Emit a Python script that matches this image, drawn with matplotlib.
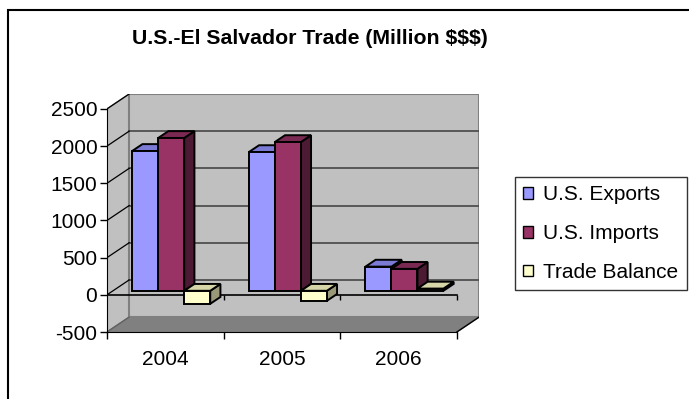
import matplotlib
matplotlib.use('Agg')
import matplotlib.pyplot as plt
from matplotlib.patches import Polygon, Rectangle, Patch

plt.rcParams['font.family'] = ['Liberation Sans', 'DejaVu Sans']

years = ['2004', '2005', '2006']
series_names = ['U.S. Exports', 'U.S. Imports', 'Trade Balance']
exports = [1880, 1865, 325]
imports = [2055, 2000, 295]
balance = [-175, -135, 30]
yticks = [-500, 0, 500, 1000, 1500, 2000, 2500]

face_colors = ['#9999ff', '#993366', '#ffffcc']
top_colors = ['#7b7bd6', '#7a2952', '#d6d6a8']
side_colors = ['#5c5c99', '#4d1a33', '#999979']

ymin, ymax = -500, 2500
dx, dy = 0.19, 200          # depth of the walls (category units, value units)
bar_w = 0.223
f0, f1 = 0.27, 0.73         # front/back depth of the bars

fig = plt.figure(figsize=(6.89, 3.99), dpi=100)
ax = fig.add_axes([107 / 689, 1 - 332 / 399, 372 / 689, 238 / 399])
ax.set_xlim(0, 3 + dx)
ax.set_ylim(ymin, ymax + dy)
ax.patch.set_visible(False)


def shifted(pts, f):
    return [(x + f * dx, y + f * dy) for x, y in pts]


# walls and floor
ax.add_patch(Polygon([(0, ymin), (0, ymax), (dx, ymax + dy), (dx, ymin + dy)],
                     facecolor='#c0c0c0', edgecolor='#808080', lw=1, zorder=0))
ax.add_patch(Rectangle((dx, ymin + dy), 3, ymax - ymin,
                       facecolor='#c0c0c0', edgecolor='#808080', lw=1.5, zorder=0))
ax.add_patch(Polygon([(0, ymin), (3, ymin), (3 + dx, ymin + dy), (dx, ymin + dy)],
                     facecolor='#808080', edgecolor='#808080', lw=1, zorder=0))

# gridlines on back wall and side wall
for v in yticks[1:-1]:
    ax.plot([dx, 3 + dx], [v + dy, v + dy], color='#505050', lw=1.3, zorder=1)
for v in yticks[1:]:
    ax.plot([0, dx], [v, v + dy], color='black', lw=0.9, zorder=1)
ax.plot([0, dx], [ymin, ymin + dy], color='#606060', lw=0.9, zorder=1)
ax.plot([3, 3 + dx], [ymin, ymin + dy], color='black', lw=1, zorder=1)

# category axis at zero
ax.plot([0, 3], [0, 0], color='black', lw=1.2, zorder=1)
ax.vlines([1, 2, 3], -70, 0, color='black', lw=1, zorder=1)

# bars
data = [exports, imports, balance]
for c in range(len(years)):
    for i, vals in enumerate(data):
        v = vals[c]
        x0 = c + 0.165 + i * bar_w
        lo, hi = min(0, v), max(0, v)
        kw = dict(edgecolor='black', lw=1.4, joinstyle='miter', zorder=3)
        ax.add_patch(Polygon(shifted([(x0 + bar_w, lo), (x0 + bar_w, hi)], f0)
                             + shifted([(x0 + bar_w, hi), (x0 + bar_w, lo)], f1),
                             facecolor=side_colors[i], **kw))
        ax.add_patch(Polygon(shifted([(x0, hi), (x0 + bar_w, hi)], f0)
                             + shifted([(x0 + bar_w, hi), (x0, hi)], f1),
                             facecolor=top_colors[i], **kw))
        ax.add_patch(Rectangle((x0 + f0 * dx, lo + f0 * dy), bar_w, hi - lo,
                               facecolor=face_colors[i], **kw))

# axes
for s in ['top', 'right']:
    ax.spines[s].set_visible(False)
ax.spines['left'].set_bounds(ymin, ymax)
ax.spines['bottom'].set_bounds(0, 3)
ax.spines['left'].set_zorder(2)
ax.spines['bottom'].set_zorder(2)
ax.set_yticks(yticks)
ax.set_yticklabels([str(t) for t in yticks])
ax.set_xticks([0, 1, 2, 3])
ax.set_xticklabels([])
ax.set_xticks([0.5, 1.5, 2.5], minor=True)
ax.set_xticklabels(years, minor=True)
ax.tick_params(axis='both', which='major', direction='out', length=5, width=1,
               labelsize=15, pad=2)
ax.tick_params(axis='x', which='minor', length=0, labelsize=15, pad=13)

fig.text(310 / 689, 1 - 39 / 399, 'U.S.-El Salvador Trade (Million $$$)',
         ha='center', va='center', fontsize=15.3, fontweight='bold')

handles = [Patch(facecolor=col, edgecolor='black', lw=1) for col in face_colors]
leg = fig.legend(handles, series_names, loc='upper left',
                 bbox_to_anchor=(515 / 689, 1 - 177 / 399), fontsize=15,
                 frameon=True, fancybox=False, edgecolor='black',
                 handlelength=0.48, handleheight=0.48, handletextpad=0.48,
                 labelspacing=0.95, borderpad=0.4, borderaxespad=0)
leg.get_frame().set_linewidth(1)

fig.patches.append(Rectangle((8 / 689, -0.1), 1.2, 1.1 - 10 / 399, fill=False,
                             edgecolor='black', lw=1.5, transform=fig.transFigure))

fig.savefig('out.png', dpi=100)
